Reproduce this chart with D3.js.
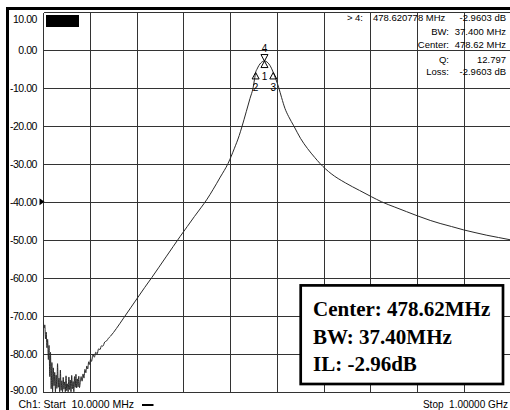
<!DOCTYPE html>
<html>
<head>
<meta charset="utf-8">
<script src="https://cdn.jsdelivr.net/npm/d3@7"></script>
<style>
  html, body { margin: 0; padding: 0; background: #fff; }
  svg { display: block; }
</style>
</head>
<body>
<svg id="chart" width="510" height="410"></svg>
<script>
// S21 transmission sweep, 10 MHz .. 1 GHz (frequency in MHz, magnitude in dB)
const freqMHz = [
  10, 11.5, 13, 14.5, 16, 17.5, 19, 20.5, 22, 23.5, 25, 26.5, 28, 29.5, 31, 32.5,
  34, 35.5, 37, 38.5, 40, 41.5, 43, 44.5, 46, 47.5, 49, 50.5, 52, 53.5, 55, 56.5,
  58, 59.5, 61, 62.5, 64, 65.5, 67, 68.5, 70, 71.5, 73, 74.5, 76, 77.5, 79, 80.5,
  82, 83.5, 85, 86.5,
  88, 90, 92, 94, 96, 98, 100, 102, 104, 106, 108, 110, 112, 115, 118, 121, 124,
  127, 130, 133, 136, 140, 144, 148, 152,
  165, 180, 195, 210, 225, 240, 255, 270, 285, 300, 315, 330, 345, 357, 370, 385,
  401.5, 415, 425, 431, 440, 448, 454.5, 457.5, 459.92, 463, 467, 471, 475, 478.62,
  482, 486, 490, 494, 497.32, 503, 509, 515, 522, 530, 540.7, 555, 570, 585, 597,
  620, 650, 680, 706, 727, 755, 780, 803, 830, 851, 875, 901, 925, 950, 975, 1000
];
const gainDB = [
  -71.5, -73.2, -72.4, -76.1, -74.3, -78.4, -76.2, -81.5, -77.8, -86.0, -79.6, -89.2, -82.3, -90.0, -83.7, -88.4,
  -84.9, -90.0, -85.6, -89.1, -82.6, -88.8, -86.4, -90.0, -84.3, -89.6, -87.1, -90.0, -86.2, -89.3, -87.4, -90.0,
  -85.8, -89.7, -87.9, -90.0, -86.1, -89.4, -86.9, -90.0, -85.7, -89.2, -87.3, -90.0, -86.0, -88.8, -85.4, -89.0,
  -86.6, -88.7, -85.9, -88.9,
  -87.6, -86.0, -87.2, -85.3, -86.4, -84.1, -85.0, -83.2, -84.0, -82.1, -82.8, -81.4, -82.0, -80.2, -80.9, -79.6, -80.0,
  -78.7, -78.9, -77.9, -78.0, -76.9, -76.6, -75.9, -75.4,
  -73.3, -70.6, -67.9, -65.2, -62.5, -59.9, -57.2, -54.5, -51.8, -49.1, -46.5, -43.9, -41.4, -39.3, -36.7, -33.5,
  -29.9, -25.9, -22.6, -20.2, -16.3, -12.8, -10.0, -7.8, -5.96, -5.05, -4.1, -3.45, -3.07, -2.96,
  -3.06, -3.43, -4.07, -5.0, -5.96, -7.8, -10.0, -12.6, -15.4, -17.6, -20.0, -23.3, -26.0, -28.3, -30.0,
  -32.6, -35.0, -37.0, -38.7, -40.0, -41.4, -42.6, -43.7, -44.9, -45.7, -46.5, -47.4, -48.1, -48.8, -49.4, -50.0
];

// Axis ticks
const freqTicks = [10, 109, 208, 307, 406, 505, 604, 703, 802, 901, 1000];
const dbTicks = [10, 0, -10, -20, -30, -40, -50, -60, -70, -80, -90];

// Markers (id, frequency MHz, level dB)
const markerIds = ["4", "1", "2", "3"];
const markerFreq = [478.62, 478.62, 459.92, 497.32];
const markerDB = [-2.96, -2.96, -5.96, -5.96];

// Marker readout
const activeMarker = ["> 4:", "478.620778 MHz", "-2.9603 dB"];
const readoutLabels = ["BW:", "Center:", "Q:", "Loss:"];
const readoutValues = ["37.400 MHz", "478.62 MHz", "12.797", "-2.9603 dB"];

// Summary box
const summaryLines = ["Center: 478.62MHz", "BW: 37.40MHz", "IL: -2.96dB"];

// Sweep annotations
const startLabel = "Ch1: Start  10.0000 MHz";
const stopLabel = "Stop  1.00000 GHz";

const SANS = "'Liberation Sans', Arial, sans-serif";
const SERIF = "'Liberation Serif', 'Times New Roman', serif";

const svg = d3.select("#chart");
const x = d3.scaleLinear().domain([10, 1000]).range([43.4, 510.4]);
const y = d3.scaleLinear().domain([-90, 10]).range([391.8, 11.8]);
const px = v => Math.round(v) + 0.5;

svg.append("rect").attr("width", 510).attr("height", 410).attr("fill", "#fff");

// graticule
const grid = svg.append("g").attr("stroke", "#333").attr("stroke-width", 1).attr("shape-rendering", "crispEdges");
grid.selectAll("line.v").data(freqTicks).join("line")
  .attr("class", "v")
  .attr("x1", d => px(x(d))).attr("x2", d => px(x(d)))
  .attr("y1", px(y(10))).attr("y2", px(y(-90)));
grid.selectAll("line.h").data(dbTicks).join("line")
  .attr("class", "h")
  .attr("x1", px(x(10))).attr("x2", 510)
  .attr("y1", d => px(y(d))).attr("y2", d => px(y(d)));

// frame edges
svg.append("rect").attr("x", 6).attr("y", 7).attr("width", 504).attr("height", 3).attr("fill", "#000");
svg.append("rect").attr("x", 6).attr("y", 7).attr("width", 3).attr("height", 403).attr("fill", "#000");

// y labels (first and last kept inside the graticule)
svg.append("g").selectAll("text").data(dbTicks).join("text")
  .attr("x", 37)
  .attr("y", (d, i) => i === 0 ? 23 : (i === dbTicks.length - 1 ? y(d) + 2.5 : y(d) + 4))
  .attr("text-anchor", "end")
  .style("font-family", SANS)
  .style("font-size", "10.5px")
  .style("letter-spacing", "-0.45px")
  .text(d => d.toFixed(2));

// reference level pointer
const refY = y(-40);
svg.append("path")
  .attr("d", `M39.5,${refY - 3.5}L44.5,${refY}L39.5,${refY + 3.5}Z`)
  .attr("fill", "#000");

// channel indicator block
svg.append("rect").attr("x", 46).attr("y", 15).attr("width", 33).attr("height", 12).attr("fill", "#000");

// trace
svg.append("clipPath").attr("id", "plotClip")
  .append("rect").attr("x", x(10)).attr("y", y(10)).attr("width", x(1000) - x(10)).attr("height", y(-90) - y(10) + 1);
const trace = freqMHz.map((f, i) => ({ f, db: gainDB[i] }));
svg.append("path")
  .datum(trace)
  .attr("clip-path", "url(#plotClip)")
  .attr("fill", "none")
  .attr("stroke", "#2a2a2a")
  .attr("stroke-width", 1)
  .attr("stroke-linejoin", "round")
  .attr("d", d3.line().x(d => x(d.f)).y(d => y(d.db)).curve(d3.curveMonotoneX));

// markers
const mk = svg.append("g");
markerIds.forEach((id, i) => {
  const mx = x(markerFreq[i]), my = y(markerDB[i]);
  const down = id === "4";
  const h = 6.5, w = 3.5;
  const tri = down
    ? `M${mx},${my}L${mx - w},${my - h}L${mx + w},${my - h}Z`
    : `M${mx},${my}L${mx - w},${my + h}L${mx + w},${my + h}Z`;
  mk.append("path").attr("d", tri).attr("fill", "none").attr("stroke", "#000").attr("stroke-width", 1);
  mk.append("text")
    .attr("x", mx)
    .attr("y", down ? my - 9.5 : my + 19)
    .attr("text-anchor", "middle")
    .style("font-family", SANS)
    .style("font-size", "10px")
    .text(id);
});

// marker readout
const ro = svg.append("g").style("font-family", SANS).style("font-size", "9.5px");
ro.append("text").attr("x", 363).attr("y", 21).attr("text-anchor", "end").text(activeMarker[0]);
ro.append("text").attr("x", 373).attr("y", 21).text(activeMarker[1]);
ro.append("text").attr("x", 506).attr("y", 21).attr("text-anchor", "end").text(activeMarker[2]);
const rowY = [35.3, 47.6, 62.9, 74.6];
readoutLabels.forEach((lab, i) => {
  ro.append("text").attr("x", 449).attr("y", rowY[i]).attr("text-anchor", "end").text(lab);
  ro.append("text").attr("x", 506).attr("y", rowY[i]).attr("text-anchor", "end").text(readoutValues[i]);
});

// summary box
const box = svg.append("g");
box.append("rect")
  .attr("x", 300.7).attr("y", 285.4).attr("width", 202.3).attr("height", 98.6)
  .attr("fill", "#fff").attr("stroke", "#000").attr("stroke-width", 2.7);
const lineY = [315.5, 343.5, 370.5];
box.selectAll("text").data(summaryLines).join("text")
  .attr("x", 313)
  .attr("y", (d, i) => lineY[i])
  .style("font-family", SERIF)
  .style("font-weight", "bold")
  .style("font-size", "21px")
  .text(d => d);

// sweep range annotations
svg.append("text").attr("x", 18.5).attr("y", 408)
  .style("font-family", SANS).style("font-size", "10.5px")
  .style("white-space", "pre").text(startLabel);
svg.append("rect").attr("x", 142).attr("y", 404).attr("width", 11.5).attr("height", 2).attr("fill", "#000");
svg.append("text").attr("x", 508).attr("y", 408).attr("text-anchor", "end")
  .style("font-family", SANS).style("font-size", "10px")
  .style("white-space", "pre").text(stopLabel);
</script>
</body>
</html>
